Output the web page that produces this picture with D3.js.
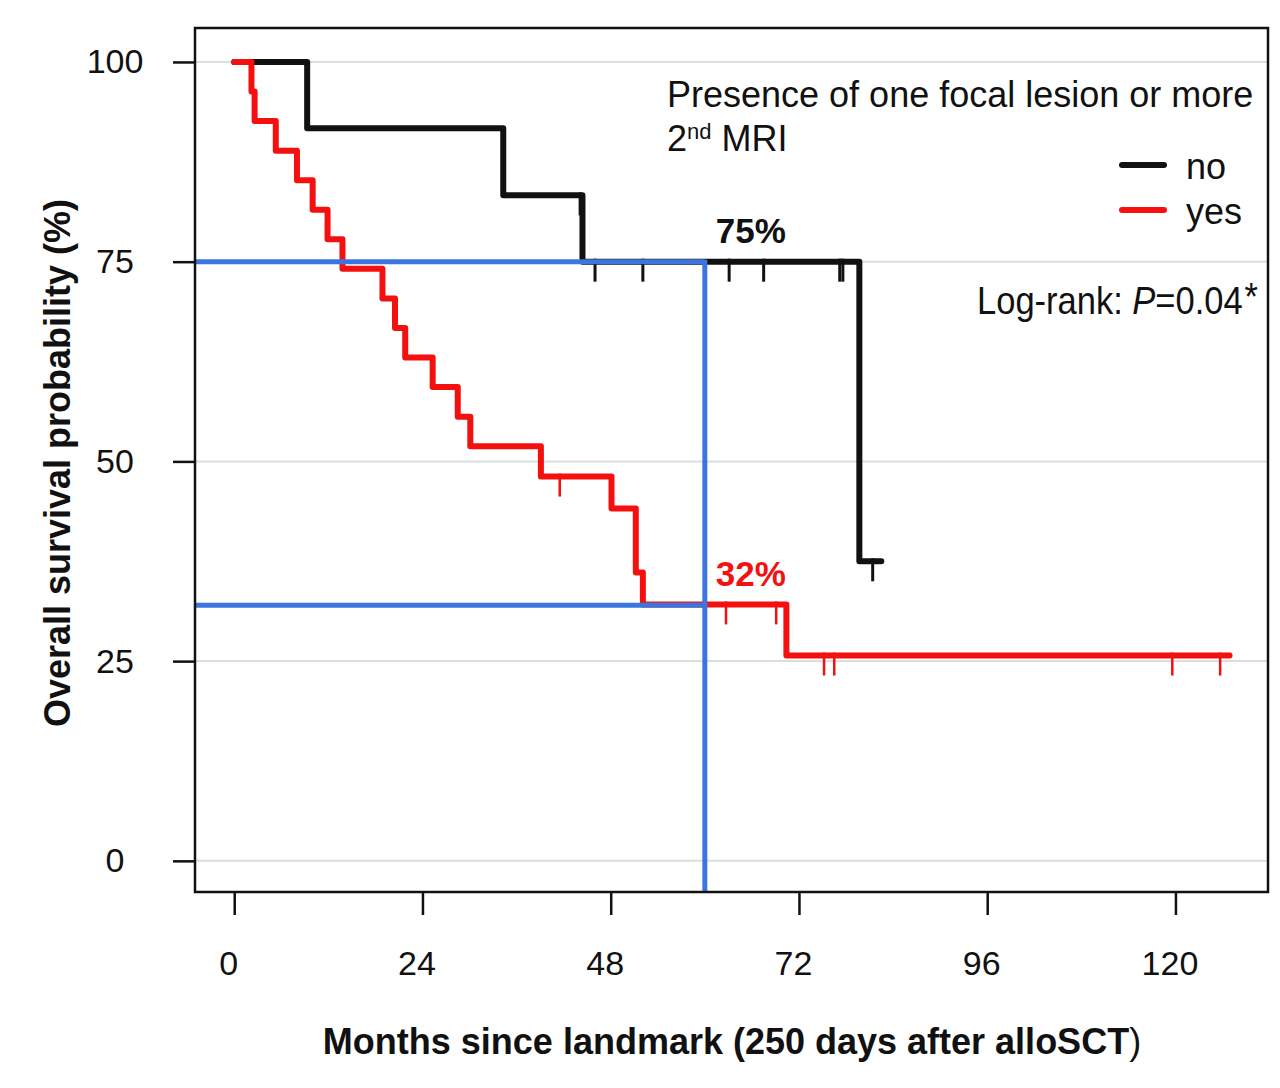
<!DOCTYPE html>
<html>
<head>
<meta charset="utf-8">
<script src="https://cdn.jsdelivr.net/npm/d3@7"></script>
<style>
	body { margin: 0; background: #fff; }
	svg { display: block; }
	text { font-family: "Liberation Sans", Arial, sans-serif; fill: #111; }
</style>
</head>
<body>
<div class="container"></div>
<script>
"use strict";

// axis ticks
const xTicks = [0, 24, 48, 72, 96, 120]
const yTicks = [0, 25, 50, 75, 100]

// "no" group (black): step times (months) and survival (%)
const noTimes = [0, 9.3, 34.3, 44.4, 79.7]
const noSurv = [100, 91.7, 83.3, 75, 37.5]
const noEnd = 82.5
const noCensor = [44.1, 46.0, 52.1, 63.1, 67.5, 77.2, 77.6, 81.4]

// "yes" group (red)
const yesTimes = [0, 2.2, 2.6, 5.3, 8.0, 10.0, 11.9, 13.8, 18.9, 20.5, 21.8, 25.3, 28.5, 30.1, 39.1, 48.1, 51.2, 52.1, 70.4]
const yesSurv = [100, 96.3, 92.6, 88.9, 85.2, 81.5, 77.8, 74.1, 70.4, 66.7, 63.0, 59.3, 55.6, 51.9, 48.1, 44.1, 36.1, 32.1, 25.7]
const yesEnd = 126.9
const yesCensor = [41.5, 62.7, 69.1, 75.2, 76.5, 119.6, 125.7]

// 5-year landmark reference lines
const refMonth = 60
const refLevels = [75, 32]
const refLabels = ['75%', '32%']
const refColors = ['#111', '#f21212']

const legendNames = ['no', 'yes']

const p = {
	width: 1280,
	height: 1088,
	left: 195,
	right: 1268,
	top: 28,
	bottom: 892,
	black: '#111',
	red: '#f51010',
	blue: '#3b76e0',
	grid: '#d7dfdf',
	logrankWidth: 281
}

const svg = d3.select('.container')
	.append('svg')
	.attr('width', p.width)
	.attr('height', p.height)

const x = d3.scaleLinear().domain([-5, 131.8]).range([p.left, p.right])
const y = d3.scaleLinear().domain([-3.9, 104.25]).range([p.bottom, p.top])

//grid lines
svg.append('g')
	.selectAll('line')
	.data(yTicks)
	.join('line')
	.attr('x1', p.left)
	.attr('x2', p.right)
	.attr('y1', d => y(d))
	.attr('y2', d => y(d))
	.attr('stroke', p.grid)
	.attr('stroke-width', 2)

//axes
const yAxis = svg.append('g')
	.attr('transform', `translate(${p.left},0)`)
	.call(d3.axisLeft(y).tickValues(yTicks).tickSize(22).tickFormat(d3.format('d')))
yAxis.select('.domain').remove()
yAxis.selectAll('line').attr('stroke', p.black).attr('stroke-width', 2.5)
yAxis.selectAll('text')
	.attr('x', -80)
	.attr('text-anchor', 'middle')
	.attr('font-size', 34)
	.attr('font-family', '"Liberation Sans", Arial, sans-serif')
	.attr('fill', p.black)

const xAxis = svg.append('g')
	.attr('transform', `translate(0,${p.bottom})`)
	.call(d3.axisBottom(x).tickValues(xTicks).tickSize(23).tickPadding(36).tickFormat(d3.format('d')))
xAxis.select('.domain').remove()
xAxis.selectAll('line').attr('stroke', p.black).attr('stroke-width', 2.5)
xAxis.selectAll('text')
	.attr('dx', -6)
	.attr('font-size', 34)
	.attr('font-family', '"Liberation Sans", Arial, sans-serif')
	.attr('fill', p.black)

//survival value at time t for a step curve
function survAt(times, surv, t) {
	let v = surv[0]
	times.forEach((tt, i) => { if (tt <= t) v = surv[i] })
	return v
}

const stepLine = d3.line()
	.x(d => x(d[0]))
	.y(d => y(d[1]))
	.curve(d3.curveStepAfter)

function drawCurve(times, surv, end, color) {
	const pts = times.map((t, i) => [t, surv[i]])
	pts.push([end, surv[surv.length - 1]])
	svg.append('path')
		.datum(pts)
		.attr('d', stepLine)
		.attr('fill', 'none')
		.attr('stroke', color)
		.attr('stroke-width', 6)
		.attr('stroke-linejoin', 'round')
		.attr('stroke-linecap', 'round')
}

function drawCensor(times, surv, censor, color, w) {
	svg.append('g')
		.selectAll('line')
		.data(censor)
		.join('line')
		.attr('x1', d => x(d))
		.attr('x2', d => x(d))
		.attr('y1', d => y(survAt(times, surv, d)) - 3)
		.attr('y2', d => y(survAt(times, surv, d)) + 20)
		.attr('stroke', color)
		.attr('stroke-width', w)
}

drawCurve(noTimes, noSurv, noEnd, p.black)
drawCurve(yesTimes, yesSurv, yesEnd, p.red)
drawCensor(noTimes, noSurv, noCensor, p.black, 3)
drawCensor(yesTimes, yesSurv, yesCensor, p.red, 2.5)

//reference lines
svg.append('g')
	.selectAll('line')
	.data(refLevels)
	.join('line')
	.attr('x1', p.left)
	.attr('x2', x(refMonth))
	.attr('y1', d => y(d))
	.attr('y2', d => y(d))
	.attr('stroke', p.blue)
	.attr('stroke-width', 5)
svg.append('line')
	.attr('x1', x(refMonth))
	.attr('x2', x(refMonth))
	.attr('y1', y(d3.max(refLevels)) - 2)
	.attr('y2', p.bottom)
	.attr('stroke', p.blue)
	.attr('stroke-width', 5)

svg.append('g')
	.selectAll('text')
	.data(refLevels)
	.join('text')
	.attr('x', x(refMonth) + 11)
	.attr('y', d => y(d) - 19)
	.attr('font-size', 35)
	.attr('font-weight', 'bold')
	.style('fill', (d, i) => refColors[i])
	.text((d, i) => refLabels[i])

//frame
svg.append('rect')
	.attr('x', p.left)
	.attr('y', p.top)
	.attr('width', p.right - p.left)
	.attr('height', p.bottom - p.top)
	.attr('fill', 'none')
	.attr('stroke', p.black)
	.attr('stroke-width', 2.5)

//legend
svg.append('text')
	.attr('x', 667)
	.attr('y', 107)
	.attr('font-size', 36)
	.text('Presence of one focal lesion or more')
const mri = svg.append('text')
	.attr('x', 667)
	.attr('y', 151)
	.attr('font-size', 36)
mri.append('tspan').text('2')
mri.append('tspan').attr('font-size', 22).attr('dy', -12).text('nd')
mri.append('tspan').attr('dy', 12).text(' MRI')

const legend = svg.append('g')
	.selectAll('g')
	.data(legendNames)
	.join('g')
	.attr('transform', (d, i) => `translate(0,${165 + i * 45})`)
legend.append('line')
	.attr('x1', 1122)
	.attr('x2', 1164)
	.attr('stroke', (d, i) => i === 0 ? p.black : p.red)
	.attr('stroke-width', 6)
	.attr('stroke-linecap', 'round')
legend.append('text')
	.attr('x', 1186)
	.attr('y', 14)
	.attr('font-size', 36)
	.text(d => d)

//log-rank text, squeezed horizontally to look like a narrow font
const lrGroup = svg.append('g')
const logrank = lrGroup.append('text')
	.attr('x', 0)
	.attr('y', 0)
	.attr('font-size', 39)
logrank.append('tspan').text('Log-rank: ')
logrank.append('tspan').attr('font-style', 'italic').text('P')
logrank.append('tspan').text('=0.04')
logrank.append('tspan').attr('dx', 2).attr('dy', -4).text('*')
const lrWidth = logrank.node().getBBox().width
lrGroup.attr('transform', `translate(977,314) scale(${p.logrankWidth / lrWidth},1)`)

//axis titles
const xt = svg.append('text')
	.attr('x', 732)
	.attr('y', 1054)
	.attr('text-anchor', 'middle')
	.attr('font-size', 36)
xt.append('tspan').attr('font-weight', 'bold').text('Months since landmark (250 days after alloSCT')
xt.append('tspan').text(')')

svg.append('text')
	.attr('transform', 'translate(70,463) rotate(-90)')
	.attr('text-anchor', 'middle')
	.attr('font-size', 36)
	.attr('font-weight', 'bold')
	.text('Overall survival probability (%)')
</script>
</body>
</html>
